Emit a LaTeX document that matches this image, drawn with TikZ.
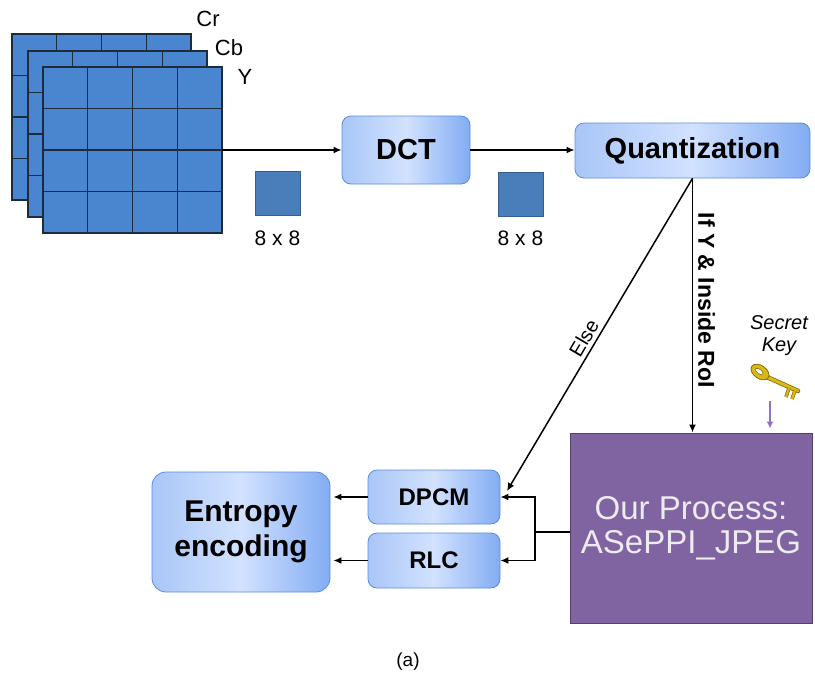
\documentclass[tikz,border=0pt]{standalone}
\usepackage{fontspec}
\setmainfont{Liberation Sans}
\usetikzlibrary{arrows.meta,positioning}

\definecolor{planeblue}{HTML}{4A86D0}
\definecolor{gridline}{HTML}{1E2B3C}
\definecolor{tileblue}{HTML}{4A7EBB}
\definecolor{tileedge}{HTML}{355F8E}
\definecolor{blocklight}{HTML}{D2E2FF}
\definecolor{blockmid}{HTML}{A9C6F7}
\definecolor{blockdark}{HTML}{82ACF3}
\definecolor{blockedge}{HTML}{5A8EDB}
\definecolor{procpurple}{HTML}{8064A2}
\definecolor{procedge}{HTML}{54406E}
\definecolor{proctext}{HTML}{EDEAF0}
\definecolor{keygold}{HTML}{D9B81C}
\definecolor{keyedge}{HTML}{8C6E05}
\definecolor{keyarrow}{HTML}{9272C2}

\begin{document}
\begin{tikzpicture}[x=1pt, y=-1pt,
    block/.style={draw=blockedge, line width=0.8pt, rounded corners=9pt,
        left color=blockmid, right color=blockdark, middle color=blocklight,
        align=center, inner sep=0pt},
    flow/.style={line width=1.5pt, -{Latex[length=8pt,width=7pt]}},
    plane/.style={draw=gridline, line width=1.1pt},
    tile/.style={draw=tileedge, fill=tileblue, line width=0.8pt,
        minimum width=45pt, minimum height=44pt, inner sep=0pt},
    dimtext/.style={font=\fontsize{21}{24}\selectfont, inner sep=0pt}]
    \useasboundingbox (0,0) rectangle (815,680);

    % Cr, Cb and Y planes, back to front
    \foreach \ox/\oy in {12/34, 28/51, 43/67} {
        \draw[plane, fill=planeblue] (\ox,\oy) rectangle ++(179,166);
        \foreach \i in {1,2,3} {
            \draw[plane] (\ox+\i*44.75,\oy) -- ++(0,166);
            \draw[plane] (\ox,\oy+\i*41.5) -- ++(179,0);
        }
    }
    \begin{scope}[every node/.style={font=\fontsize{22}{24}\selectfont}]
        \node (cr) at (208,19) {Cr};
        \node (cb) at (229,48) {Cb};
        \node (ylabel) at (245,77) {Y};
    \end{scope}
    \coordinate (planeout) at (222,150);

    % main blocks
    \node[block, minimum width=128pt, minimum height=68pt,
        font=\bfseries\fontsize{29}{32}\selectfont] (dct) at (406,150) {DCT};
    \node[block, minimum width=235pt, minimum height=55pt,
        font=\bfseries\fontsize{29}{32}\selectfont] (quant) at (692.5,150.5) {Quantization};
    \node[block, minimum width=178pt, minimum height=120pt, rounded corners=14pt,
        font=\bfseries\fontsize{30}{35}\selectfont] (entropy) at (241,532) {Entropy\\encoding};
    \node[block, minimum width=132pt, minimum height=54pt,
        font=\bfseries\fontsize{24}{26}\selectfont] (dpcm) at (434,497) {DPCM};
    \node[block, minimum width=132pt, minimum height=55pt,
        font=\bfseries\fontsize{24}{26}\selectfont] (rlc) at (434,560.5) {RLC};
    \node[draw=procedge, fill=procpurple, line width=1pt, minimum width=242pt,
        minimum height=190pt, align=center, inner sep=0pt, text=proctext,
        font=\fontsize{33}{34}\selectfont] (proc) at (691,528)
        {Our Process:\\ASePPI\_JPEG};

    % 8 x 8 blocks
    \node[tile] (tile1) at (277.5,193.5) {};
    \node[dimtext, below=15pt of tile1] (dim1) {8 x 8};
    \node[tile] (tile2) at (520.5,194.5) {};
    \node[dimtext, below=14pt of tile2] (dim2) {8 x 8};

    % connectors
    \draw[flow] (planeout) -- (dct);
    \draw[flow] (dct.east) -- (dct.east -| quant.west);
    \draw[flow] (quant.south) -- (quant.south |- proc.north)
        node[pos=0.48, anchor=south, rotate=-90, inner sep=5pt,
            font=\bfseries\fontsize{23}{24}\selectfont] (iflabel) {If Y \& Inside RoI};
    \coordinate (elseend) at (507,491);
    \draw[flow] (quant.south) -- (elseend)
        node[pos=0.53, anchor=south, rotate=59.5, inner sep=4pt,
            font=\fontsize{20}{22}\selectfont] (elselabel) {Else};
    \coordinate (fork) at (535,532);
    \draw[line width=1.5pt] (fork) -- (fork -| proc.west);
    \draw[flow] (fork) |- (dpcm.east);
    \draw[flow] (fork) |- (rlc.east);
    \draw[flow, shorten >=3pt] (dpcm.west) -- (dpcm.west -| entropy.east);
    \draw[flow, shorten >=3pt] (rlc.west) -- (rlc.west -| entropy.east);

    % secret key
    \node[align=center, font=\itshape\fontsize{20}{22}\selectfont] (secret) at (779,336) {Secret\\Key};
    \draw[keyedge, line width=4.6pt, line cap=round] (767,377) -- (798,391);
    \draw[keygold, line width=3pt, line cap=round] (767,377) -- (798,391);
    \draw[keyedge, fill=keygold, line width=0.8pt, rotate around={-35:(760,372)}]
        (760,372) ellipse (10pt and 6.5pt);
    \draw[keyedge, fill=white, line width=0.6pt, rotate around={-35:(760,372)}]
        (759,372) ellipse (4.5pt and 2.2pt);
    \draw[keyedge, line width=3.6pt] (789,388) -- (786,397) (795,390.5) -- (792,399);
    \draw[keygold, line width=2.2pt] (789,388) -- (786,397) (795,390.5) -- (792,399);
    \coordinate (keytail) at (770,401);
    \draw[keyarrow, line width=1.8pt, -{Latex[length=7pt,width=7pt]}, shorten >=4pt]
        (keytail) -- (keytail |- proc.north);

    \node[font=\fontsize{19}{22}\selectfont] (caption) at (408,662) {(a)};
\end{tikzpicture}
\end{document}
